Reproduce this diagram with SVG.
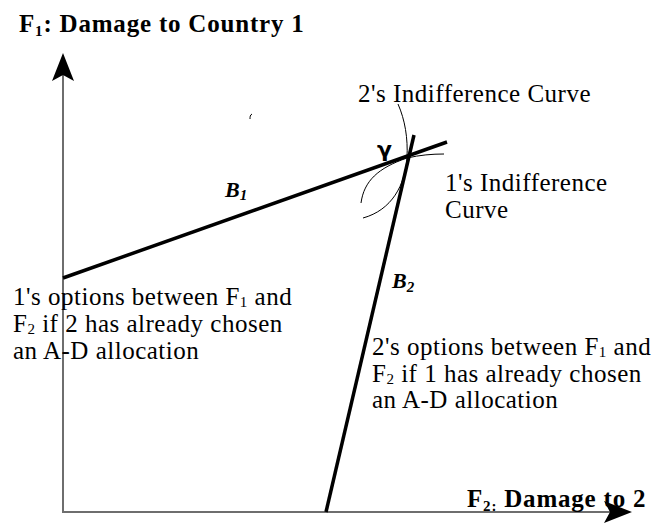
<svg xmlns="http://www.w3.org/2000/svg" width="661" height="523" viewBox="0 0 661 523">
<style>
.t{font-family:"Liberation Serif","Times New Roman",serif;font-size:25px;letter-spacing:0.5px;fill:#000}
.b{font-weight:bold;letter-spacing:0.8px}
.bi{font-weight:bold;font-style:italic;font-size:22px;letter-spacing:0}
.ax{stroke:#6e6e6e;stroke-width:2;fill:none}
.bl{stroke:#000;stroke-width:3.5;fill:none;stroke-linecap:butt}
.ic{stroke:#000;stroke-width:1;fill:none}
.sub{font-size:15px}
</style>
<rect width="661" height="523" fill="#fff"/>
<g id="axes">
<line class="ax" x1="63" y1="513" x2="63" y2="74"/>
<polygon points="63,53 74,81 63,75 52,81" fill="#000"/>
<line class="ax" x1="64" y1="512" x2="612" y2="512"/>
<polygon points="632,512 604,523 610,512 604,501" fill="#000"/>
</g>
<g id="connectors">
<line id="B1-line" class="bl" x1="63" y1="278" x2="447" y2="142"/>
<line id="B2-line" class="bl" x1="326" y1="512" x2="414" y2="135"/>
<path id="curve2" class="ic" d="M398,104 C405,120 408,138 407,158 C405,185 392,210 363,218"/>
<path id="curve1" class="ic" d="M361,203 C364,181 378,168 407,158 C420,155 432,154 444,154"/>
<path class="ic" d="M252,114 C250,115 250,117 250,119"/>
</g>
<g id="yaxis-label"><text class="t b" x="19" y="32">F<tspan class="sub" dy="4">1</tspan><tspan dy="-4">:  Damage to Country 1</tspan></text></g>
<g id="xaxis-label"><text class="t b" x="467" y="507">F<tspan class="sub" dy="4">2</tspan><tspan class="sub">:</tspan><tspan dy="-4"> Damage to 2</tspan></text></g>
<g id="label-2-indiff"><text class="t" x="358" y="102">2's Indifference Curve</text></g>
<g id="label-1-indiff"><text class="t" x="445" y="191">1's Indifference</text><text class="t" x="445" y="218">Curve</text></g>
<g id="gamma"><text x="377" y="157" style="font-family:'DejaVu Sans',sans-serif;font-weight:bold;font-size:22px">γ</text></g>
<g id="B1"><text class="t bi" x="225" y="197">B<tspan class="sub" dy="3">1</tspan></text></g>
<g id="B2"><text class="t bi" x="392" y="288">B<tspan class="sub" dy="4">2</tspan></text></g>
<g id="label-1-options">
<text class="t" x="13" y="305">1's options between F<tspan class="sub" dy="2">1</tspan><tspan dy="-2"> and</tspan></text>
<text class="t" x="13" y="332">F<tspan class="sub" dy="2">2</tspan><tspan dy="-2"> if 2 has already chosen</tspan></text>
<text class="t" x="13" y="359">an A-D allocation</text>
</g>
<g id="label-2-options">
<text class="t" x="372" y="355">2's options between F<tspan class="sub" dy="2">1</tspan><tspan dy="-2"> and</tspan></text>
<text class="t" x="372" y="382">F<tspan class="sub" dy="2">2</tspan><tspan dy="-2"> if 1 has already chosen</tspan></text>
<text class="t" x="372" y="408">an A-D allocation</text>
</g>
</svg>
